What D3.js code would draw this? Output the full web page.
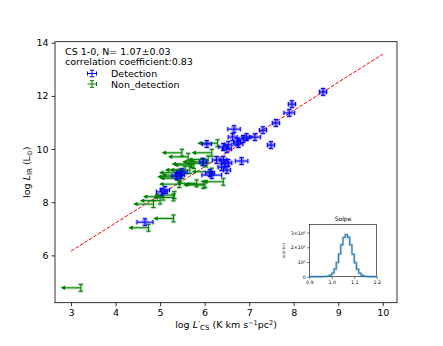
<!DOCTYPE html>
<html>
<head>
<meta charset="utf-8">
<script src="https://cdn.jsdelivr.net/npm/d3@7"></script>
<style>
  html, body { margin: 0; padding: 0; background: #fff; }
  svg { display: block; font-family: "DejaVu Sans", sans-serif; }
</style>
</head>
<body>
<svg id="chart" width="443" height="346"></svg>
<script>
// Detection points (log L'CS, log LIR) with errors
const detX    = [8.66, 7.96, 7.90, 7.60, 7.31, 7.13, 7.49, 6.66, 6.63, 6.94, 6.73, 6.87, 6.76, 6.53, 6.42, 6.50, 6.05, 6.83, 6.53, 6.42, 6.27, 5.97, 6.38, 6.50, 6.16, 6.12, 5.49, 5.45, 5.37, 5.11, 5.04, 4.66, 6.46];
const detY    = [12.15, 11.69, 11.36, 10.98, 10.71, 10.45, 10.15, 10.75, 10.45, 10.45, 10.27, 10.38, 10.19, 10.16, 10.08, 10.00, 10.19, 9.55, 9.48, 9.59, 9.59, 9.51, 9.32, 9.21, 9.02, 9.10, 9.13, 9.02, 8.99, 8.46, 8.39, 7.25, 9.47];
const detXErr = [0.08, 0.08, 0.12, 0.08, 0.08, 0.12, 0.08, 0.14, 0.10, 0.10, 0.08, 0.10, 0.10, 0.08, 0.10, 0.10, 0.10, 0.14, 0.08, 0.08, 0.10, 0.08, 0.08, 0.08, 0.22, 0.10, 0.12, 0.10, 0.10, 0.10, 0.12, 0.18, 0.08];
const detYErr = [0.13, 0.13, 0.13, 0.13, 0.13, 0.13, 0.13, 0.13, 0.13, 0.13, 0.13, 0.13, 0.13, 0.13, 0.13, 0.13, 0.13, 0.13, 0.13, 0.13, 0.13, 0.13, 0.13, 0.13, 0.13, 0.13, 0.13, 0.13, 0.13, 0.13, 0.13, 0.13, 0.13];

// Non-detection points (upper limits in log L'CS)
const nonX    = [6.29, 5.49, 5.63, 6.16, 5.95, 5.71, 6.08, 5.56, 5.49, 5.45, 6.16, 6.42, 5.97, 5.30, 5.00, 4.85, 5.43, 6.01, 5.32, 5.30, 4.74, 3.22, 6.03, 5.76, 5.67, 5.43, 5.39, 5.82, 5.07];
const nonY    = [10.22, 9.86, 9.71, 9.86, 9.52, 9.44, 9.61, 9.21, 9.02, 8.90, 9.15, 8.77, 8.65, 8.18, 8.06, 7.93, 8.68, 8.68, 8.27, 7.39, 7.04, 4.78, 9.46, 9.40, 9.21, 9.11, 8.96, 8.71, 8.21];
const nonYErr = 0.13;
const nonArrow = 0.42;

// Fit line
const fitX = [3, 10];
const fitY = [6.16, 13.57];

// Inset histogram of slope
const slopeBins   = [0.96, 0.97, 0.98, 0.99, 1.00, 1.01, 1.02, 1.03, 1.04, 1.05, 1.06, 1.07, 1.08, 1.09, 1.10, 1.11, 1.12, 1.13, 1.14, 1.15, 1.16, 1.17];
const slopeCounts = [300, 1100, 3500, 9900, 24000, 52000, 96000, 154000, 217000, 267000, 286000, 268000, 216000, 153000, 95000, 51000, 24000, 10000, 3500, 1100, 300];

const xTicks = [3, 4, 5, 6, 7, 8, 9, 10];
const yTicks = [6, 8, 10, 12, 14];
const insetXTicks = [0.9, 1.0, 1.1, 1.2];
const insetYTicks = [0, 100000, 200000, 300000];
const insetYLabels = ["0", "10\u2075", "2\u00d710\u2075", "3\u00d710\u2075"];

const svg = d3.select("#chart");

const box = { left: 55, right: 397, top: 41.7, bottom: 302.7 };
const x = d3.scaleLinear().domain([2.64, 10.32]).range([box.left, box.right]);
const y = d3.scaleLinear().domain([4.22, 14.04]).range([box.bottom, box.top]);

// Axes
const xAxis = svg.append("g")
  .attr("transform", `translate(0,${box.bottom})`)
  .call(d3.axisBottom(x).tickValues(xTicks).tickSize(3.5).tickPadding(3).tickFormat(d3.format("d")));
const yAxis = svg.append("g")
  .attr("transform", `translate(${box.left},0)`)
  .call(d3.axisLeft(y).tickValues(yTicks).tickSize(3.5).tickPadding(3).tickFormat(d3.format("d")));
[xAxis, yAxis].forEach(a => {
  a.select(".domain").remove();
  a.selectAll("line").attr("stroke", "#000").attr("stroke-width", 0.8);
  a.selectAll("text").attr("font-size", 9.5).attr("font-family", "DejaVu Sans").attr("fill", "#000");
});

svg.append("rect")
  .attr("x", box.left).attr("y", box.top)
  .attr("width", box.right - box.left).attr("height", box.bottom - box.top)
  .attr("fill", "none").attr("stroke", "#000").attr("stroke-width", 0.8);

// Axis labels
const xl = svg.append("text")
  .attr("x", (box.left + box.right) / 2).attr("y", 328)
  .attr("text-anchor", "middle").attr("font-size", 9.5);
xl.append("tspan").text("log ");
xl.append("tspan").attr("font-style", "italic").text("L\u2032");
xl.append("tspan").attr("font-size", 7).attr("dy", 2).text("CS");
xl.append("tspan").attr("dy", -2).text(" (K km s");
xl.append("tspan").attr("font-size", 6.5).attr("dy", -3.5).text("\u22121");
xl.append("tspan").attr("dy", 3.5).text("pc");
xl.append("tspan").attr("font-size", 6.5).attr("dy", -3.5).text("2");
xl.append("tspan").attr("dy", 3.5).text(")");

const yl = svg.append("text")
  .attr("transform", `translate(30,${(box.top + box.bottom) / 2}) rotate(-90)`)
  .attr("text-anchor", "middle").attr("font-size", 9.5);
yl.append("tspan").text("log ");
yl.append("tspan").attr("font-style", "italic").text("L");
yl.append("tspan").attr("font-size", 7).attr("dy", 2).text("IR");
yl.append("tspan").attr("dy", -2).text(" (L");
yl.append("tspan").attr("font-size", 7).attr("dy", 2).text("\u2299");
yl.append("tspan").attr("dy", -2).text(")");

const plot = svg.append("g");

// Fit line
plot.append("line")
  .attr("x1", x(fitX[0])).attr("y1", y(fitY[0]))
  .attr("x2", x(fitX[1])).attr("y2", y(fitY[1]))
  .attr("stroke", "#ff0000").attr("stroke-width", 1)
  .attr("stroke-dasharray", "3.7,1.6");

const cap = 2.2;

function drawDetection(g, px, py, dx, dy, color) {
  g.append("rect").attr("x", px - 3).attr("y", py - 3).attr("width", 6).attr("height", 6)
    .attr("fill", color).attr("opacity", 0.22);
  [{ w: 3, o: 0.22 }, { w: 1, o: 1 }].forEach(s => {
    const p = g.append("g").attr("stroke", color).attr("stroke-width", s.w).attr("opacity", s.o);
    p.append("line").attr("x1", px - dx).attr("x2", px + dx).attr("y1", py).attr("y2", py);
    p.append("line").attr("x1", px).attr("x2", px).attr("y1", py - dy).attr("y2", py + dy);
    p.append("line").attr("x1", px - dx).attr("x2", px - dx).attr("y1", py - cap).attr("y2", py + cap);
    p.append("line").attr("x1", px + dx).attr("x2", px + dx).attr("y1", py - cap).attr("y2", py + cap);
    p.append("line").attr("x1", px - cap).attr("x2", px + cap).attr("y1", py - dy).attr("y2", py - dy);
    p.append("line").attr("x1", px - cap).attr("x2", px + cap).attr("y1", py + dy).attr("y2", py + dy);
  });
}

function drawLimit(g, px, py, len, dy, color) {
  [{ w: 3, o: 0.25 }, { w: 1, o: 1 }].forEach(s => {
    const p = g.append("g").attr("stroke", color).attr("stroke-width", s.w).attr("opacity", s.o);
    p.append("line").attr("x1", px - len).attr("x2", px).attr("y1", py).attr("y2", py);
    p.append("line").attr("x1", px).attr("x2", px).attr("y1", py - dy).attr("y2", py + dy);
    p.append("line").attr("x1", px - cap).attr("x2", px + cap).attr("y1", py - dy).attr("y2", py - dy);
    p.append("line").attr("x1", px - cap).attr("x2", px + cap).attr("y1", py + dy).attr("y2", py + dy);
  });
  g.append("path")
    .attr("d", `M${px - len - 1.5},${py} L${px - len + 3},${py - 2.2} L${px - len + 3},${py + 2.2} Z`)
    .attr("fill", color);
}

// Non-detections
nonX.forEach((v, i) => {
  const px = x(v), py = y(nonY[i]);
  const len = x(v) - x(v - nonArrow);
  const dy = y(nonY[i] - nonYErr) - py;
  drawLimit(plot, px, py, len, dy, "#008000");
});

// Detections
detX.forEach((v, i) => {
  const px = x(v), py = y(detY[i]);
  const dx = x(v + detXErr[i]) - px;
  const dy = y(detY[i] - detYErr[i]) - py;
  drawDetection(plot, px, py, dx, dy, "#0000ff");
});

// Legend
const leg = svg.append("g").attr("font-size", 9.5);
leg.append("text").attr("x", 65).attr("y", 55).text("CS 1-0, N= 1.07\u00b10.03");
leg.append("text").attr("x", 65).attr("y", 65).text("correlation coefficient:0.83");
const lb = leg.append("g").attr("stroke", "#0000ff");
lb.append("line").attr("x1", 87.5).attr("x2", 96.5).attr("y1", 73.5).attr("y2", 73.5);
lb.append("line").attr("x1", 92).attr("x2", 92).attr("y1", 70.2).attr("y2", 76.8);
lb.append("line").attr("x1", 89.8).attr("x2", 94.2).attr("y1", 70.2).attr("y2", 70.2);
lb.append("line").attr("x1", 89.8).attr("x2", 94.2).attr("y1", 76.8).attr("y2", 76.8);
lb.append("line").attr("x1", 87.5).attr("x2", 87.5).attr("y1", 71.5).attr("y2", 75.5);
lb.append("line").attr("x1", 96.5).attr("x2", 96.5).attr("y1", 71.5).attr("y2", 75.5);
leg.append("text").attr("x", 111).attr("y", 76.5).text("Detection");
const lg = leg.append("g").attr("stroke", "#008000");
lg.append("line").attr("x1", 87.5).attr("x2", 96.5).attr("y1", 84).attr("y2", 84);
lg.append("line").attr("x1", 92).attr("x2", 92).attr("y1", 80.7).attr("y2", 87.3);
lg.append("line").attr("x1", 89.8).attr("x2", 94.2).attr("y1", 80.7).attr("y2", 80.7);
lg.append("line").attr("x1", 89.8).attr("x2", 94.2).attr("y1", 87.3).attr("y2", 87.3);
lg.append("line").attr("x1", 96.5).attr("x2", 96.5).attr("y1", 82).attr("y2", 86);
leg.append("text").attr("x", 111).attr("y", 87.5).text("Non_detection");

// Inset histogram
const ib = { left: 309.3, right: 376.7, top: 224.3, bottom: 276.7 };
const ix = d3.scaleLinear().domain([0.9, 1.2]).range([ib.left, ib.right]);
const iy = d3.scaleLinear().domain([0, 356000]).range([ib.bottom, ib.top]);

svg.append("rect")
  .attr("x", ib.left).attr("y", ib.top)
  .attr("width", ib.right - ib.left).attr("height", ib.bottom - ib.top)
  .attr("fill", "#fff").attr("stroke", "#000").attr("stroke-width", 0.6);

const ixAxis = svg.append("g")
  .attr("transform", `translate(0,${ib.bottom})`)
  .call(d3.axisBottom(ix).tickValues(insetXTicks).tickSize(2).tickPadding(1.5).tickFormat(d3.format(".1f")));
const iyAxis = svg.append("g")
  .attr("transform", `translate(${ib.left},0)`)
  .call(d3.axisLeft(iy).tickValues(insetYTicks).tickSize(2).tickPadding(1.5).tickFormat((d, i) => insetYLabels[i]));
[ixAxis, iyAxis].forEach(a => {
  a.select(".domain").remove();
  a.selectAll("line").attr("stroke", "#000").attr("stroke-width", 0.6);
  a.selectAll("text").attr("font-size", 4.8).attr("font-family", "DejaVu Sans").attr("fill", "#000");
});

svg.append("text")
  .attr("x", (ib.left + ib.right) / 2).attr("y", 220.5)
  .attr("text-anchor", "middle").attr("font-size", 6).text("Solpe");
svg.append("text")
  .attr("transform", `translate(285,${(ib.top + ib.bottom) / 2}) rotate(-90)`)
  .attr("text-anchor", "middle").attr("font-size", 4).attr("fill", "#555").text("number");

// step path
let d = `M${ix(0.9)},${iy(0)} L${ix(slopeBins[0])},${iy(0)}`;
slopeCounts.forEach((c, i) => {
  d += ` L${ix(slopeBins[i])},${iy(c)} L${ix(slopeBins[i + 1])},${iy(c)}`;
});
d += ` L${ix(slopeBins[slopeBins.length - 1])},${iy(0)} L${ix(1.2)},${iy(0)}`;
svg.append("path").attr("d", d).attr("fill", "none")
  .attr("stroke", "#1f77b4").attr("stroke-width", 2.4).attr("opacity", 0.35);
svg.append("path").attr("d", d).attr("fill", "none")
  .attr("stroke", "#1f77b4").attr("stroke-width", 1);
</script>
</body>
</html>
